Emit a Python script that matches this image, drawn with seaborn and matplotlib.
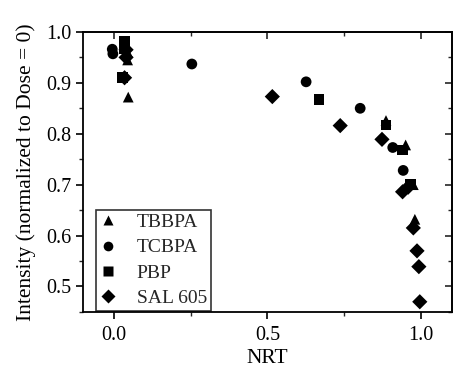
import matplotlib
matplotlib.use("Agg")
import matplotlib.pyplot as plt
import seaborn as sns
import pandas as pd
from matplotlib.ticker import MultipleLocator

sns.set_style("ticks")
plt.rcParams['font.family'] = ['Liberation Serif', 'DejaVu Serif']

series_names = ["TBBPA", "TCBPA", "PBP", "SAL 605"]

tbbpa_x = [0.04, 0.045, 0.045, 0.047, 0.886, 0.95, 0.975, 0.98]
tbbpa_y = [0.975, 0.96, 0.945, 0.872, 0.826, 0.778, 0.70, 0.632]

tcbpa_x = [-0.005, -0.003, 0.254, 0.626, 0.802, 0.908, 0.942]
tcbpa_y = [0.966, 0.957, 0.937, 0.902, 0.85, 0.773, 0.728]

pbp_x = [0.035, 0.035, 0.028, 0.668, 0.886, 0.94, 0.965]
pbp_y = [0.982, 0.968, 0.91, 0.867, 0.817, 0.768, 0.70]

sal_x = [0.04, 0.04, 0.035, 0.516, 0.737, 0.873, 0.94, 0.958, 0.975, 0.987, 0.993, 0.996]
sal_y = [0.965, 0.95, 0.91, 0.873, 0.816, 0.789, 0.686, 0.695, 0.615, 0.57, 0.539, 0.47]

frames = []
for name, xs, ys in zip(series_names, [tbbpa_x, tcbpa_x, pbp_x, sal_x],
                        [tbbpa_y, tcbpa_y, pbp_y, sal_y]):
    frames.append(pd.DataFrame({"NRT": xs, "Intensity": ys, "series": name}))
df = pd.concat(frames, ignore_index=True)

fig = plt.figure(figsize=(4.54, 3.67), dpi=100)
ax = fig.add_axes([0.183, 0.150, 0.812, 0.763])

markers = {"TBBPA": "^", "TCBPA": "o", "PBP": "s", "SAL 605": "D"}
palette = {n: "black" for n in series_names}
sns.scatterplot(data=df, x="NRT", y="Intensity", hue="series", style="series",
                markers=markers, palette=palette, hue_order=series_names,
                style_order=series_names, s=60, edgecolor="none", ax=ax)

ax.set_xlim(-0.1, 1.1)
ax.set_ylim(0.45, 1.0)
ax.xaxis.set_minor_locator(MultipleLocator(0.25))
ax.yaxis.set_minor_locator(MultipleLocator(0.05))
ax.set_xticks([0.0, 0.5, 1.0])
ax.set_xticklabels(["0.0", "0.5", "1.0"])
ax.set_yticks([0.5, 0.6, 0.7, 0.8, 0.9, 1.0])
ax.set_yticklabels(["0.5", "0.6", "0.7", "0.8", "0.9", "1.0"])

for sp in ax.spines.values():
    sp.set_visible(True)
    sp.set_linewidth(1.3)
    sp.set_color("black")

ax.tick_params(axis="both", which="major", direction="out", length=5, width=1.2,
               labelsize=14.5, colors="black", top=False, right=False)
ax.tick_params(axis="x", which="major", pad=5)
ax.tick_params(axis="both", which="minor", direction="out", length=3, width=1.0,
               top=False, right=False)
secx = ax.secondary_xaxis("top")
secx.set_xticks([0.0, 0.5, 1.0])
secx.xaxis.set_minor_locator(MultipleLocator(0.25))
secx.tick_params(which="major", direction="in", length=5, width=1.2, labeltop=False)
secx.tick_params(which="minor", direction="in", length=3, width=1.0)
secx.spines["top"].set_linewidth(1.3)
secy = ax.secondary_yaxis("right")
secy.set_yticks([0.5, 0.6, 0.7, 0.8, 0.9, 1.0])
secy.yaxis.set_minor_locator(MultipleLocator(0.05))
secy.tick_params(which="major", direction="in", length=5, width=1.2, labelright=False)
secy.tick_params(which="minor", direction="in", length=3, width=1.0)
secy.spines["right"].set_linewidth(1.3)

ax.set_xlabel("NRT", fontsize=15.5, color="black", labelpad=3)
ax.set_ylabel("Intensity (normalized to Dose = 0)", fontsize=15.5, color="black", labelpad=7)

leg = ax.legend(loc="lower left", bbox_to_anchor=(0.035, 0.003), bbox_transform=ax.transAxes,
                fontsize=14, frameon=True, fancybox=False, edgecolor="black",
                borderpad=0.2, labelspacing=0.4, handlelength=0.8, handletextpad=1.1,
                borderaxespad=0.0, markerscale=0.9)
leg.get_frame().set_linewidth(1.2)
for h in leg.legend_handles:
    h.set_color("black")

fig.savefig("out.png", dpi=100)
